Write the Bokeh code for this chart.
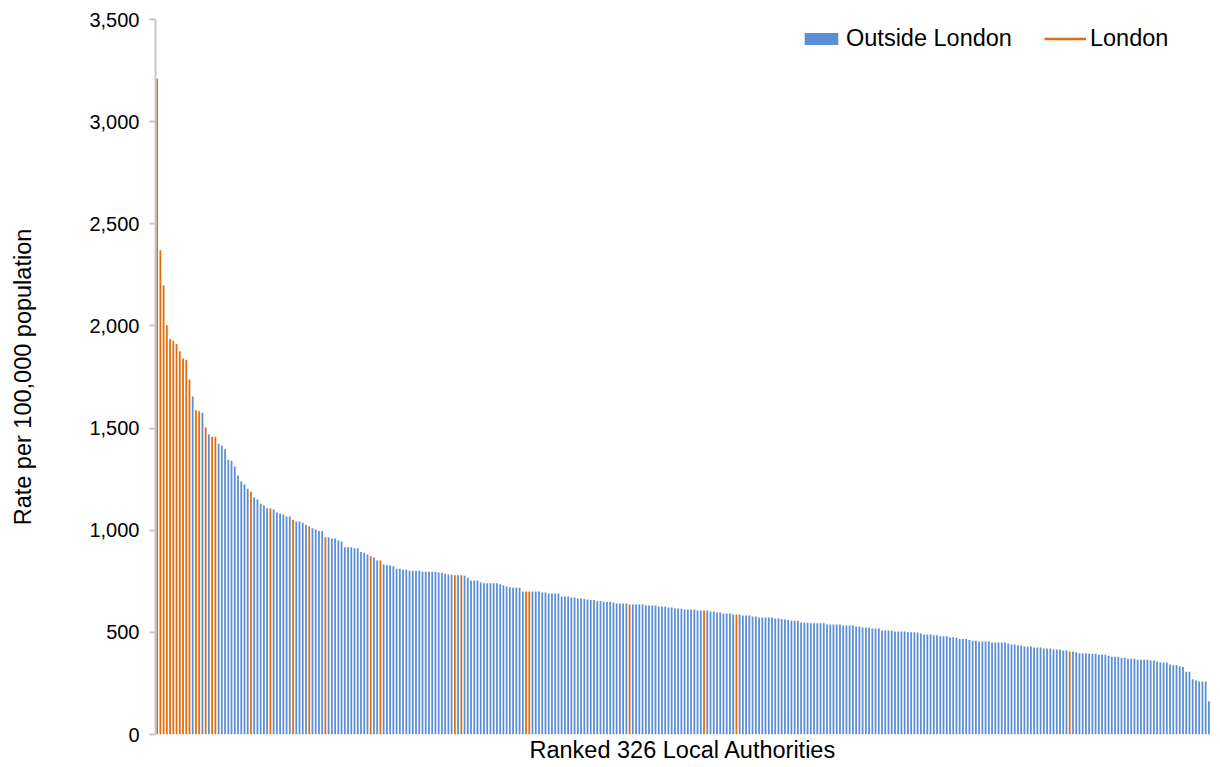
from bokeh.plotting import figure
from bokeh.models import (ColumnDataSource, Legend, LegendItem, NumeralTickFormatter,
                          FixedTicker, Range1d)
from bokeh.embed import file_html
from bokeh.resources import INLINE

# Rates per 100,000 population, ranked 1..326
rates = [
    3210, 2370, 2199, 2003, 1936, 1928, 1911, 1876, 1840, 1835,
    1738, 1655, 1587, 1582, 1575, 1503, 1469, 1458, 1458, 1423,
    1415, 1396, 1345, 1340, 1312, 1268, 1239, 1224, 1203, 1190,
    1161, 1151, 1130, 1121, 1108, 1107, 1102, 1087, 1082, 1077,
    1067, 1067, 1051, 1043, 1043, 1037, 1027, 1019, 1010, 1004,
    996, 996, 965, 965, 960, 960, 950, 945, 917, 917,
    917, 912, 912, 893, 890, 881, 872, 867, 852, 852,
    832, 829, 829, 824, 811, 811, 806, 806, 801, 801,
    801, 801, 797, 797, 797, 797, 797, 793, 792, 787,
    783, 782, 779, 779, 779, 777, 767, 754, 754, 754,
    744, 740, 740, 740, 740, 740, 735, 730, 725, 721,
    718, 718, 718, 700, 700, 700, 700, 700, 700, 695,
    695, 690, 690, 690, 690, 676, 676, 676, 671, 671,
    666, 666, 663, 661, 658, 658, 653, 653, 650, 650,
    650, 646, 641, 641, 641, 641, 636, 636, 636, 636,
    636, 633, 632, 632, 632, 627, 627, 627, 622, 622,
    617, 617, 615, 612, 612, 612, 612, 607, 607, 607,
    607, 602, 602, 597, 597, 592, 592, 592, 588, 588,
    588, 583, 583, 583, 578, 578, 573, 573, 573, 573,
    573, 568, 568, 565, 563, 560, 557, 557, 557, 548,
    548, 547, 544, 544, 544, 544, 544, 539, 539, 539,
    539, 539, 534, 534, 534, 534, 529, 529, 524, 524,
    524, 519, 519, 519, 509, 509, 509, 509, 504, 504,
    504, 504, 501, 501, 501, 499, 495, 490, 490, 490,
    486, 486, 481, 481, 481, 476, 476, 473, 468, 468,
    468, 463, 459, 459, 455, 455, 455, 455, 450, 450,
    450, 450, 450, 446, 441, 441, 436, 436, 431, 431,
    431, 426, 426, 426, 421, 421, 421, 416, 416, 416,
    411, 411, 406, 406, 403, 398, 398, 398, 395, 395,
    395, 390, 390, 390, 385, 380, 380, 380, 376, 376,
    371, 371, 371, 366, 366, 366, 366, 362, 362, 357,
    353, 353, 353, 343, 339, 339, 334, 330, 307, 307,
    271, 264, 260, 260, 260, 163,
]

# Ranks of the London authorities
london_ranks = [1, 2, 3, 4, 5, 6, 7, 8, 9, 10, 11, 13, 14, 16, 18, 19, 30, 36, 43,
                48, 53, 67, 70, 93, 95, 115, 116, 147, 170, 180, 283]

y_ticks = [0, 500, 1000, 1500, 2000, 2500, 3000, 3500]
series_names = ["Outside London", "London"]
x_title = "Ranked 326 Local Authorities"
y_title = "Rate per 100,000 population"

BLUE = "#5A8ED6"
ORANGE = "#E46C0A"
FONT = "Liberation Sans"

ranks = list(range(1, len(rates) + 1))
lon_set = set(london_ranks)
src_out = ColumnDataSource(dict(
    x=[r for r in ranks if r not in lon_set],
    top=[v for r, v in zip(ranks, rates) if r not in lon_set]))
src_lon = ColumnDataSource(dict(
    x=[r for r in ranks if r in lon_set],
    top=[v for r, v in zip(ranks, rates) if r in lon_set]))

p = figure(width=1214, height=765, output_backend="svg", toolbar_location=None,
           x_range=Range1d(0.5, len(rates) + 0.5), y_range=Range1d(0, 3500),
           min_border_left=155, min_border_top=19, min_border_right=4,
           min_border_bottom=28)
p.outline_line_color = None
p.grid.visible = False
p.background_fill_color = "white"
p.border_fill_color = "white"

r_out = p.vbar(x="x", top="top", width=0.55, source=src_out,
               fill_color=BLUE, line_color=None)
r_lon = p.vbar(x="x", top="top", width=0.55, source=src_lon,
               fill_color=ORANGE, line_color=None)
# legend-only line glyph for the London series (no visible points)
r_leg = p.line(x=[float("nan")], y=[float("nan")], line_color=ORANGE, line_width=2.5)

# y axis
ya = p.yaxis[0]
ya.ticker = FixedTicker(ticks=y_ticks)
ya.formatter = NumeralTickFormatter(format="0,0")
ya.axis_line_color = "#C8C8C8"
ya.axis_line_width = 2
ya.major_tick_line_color = "#C8C8C8"
ya.major_tick_line_width = 2
ya.major_tick_out = 6
ya.major_tick_in = 0
ya.minor_tick_out = 0
ya.minor_tick_in = 0
ya.major_label_text_font = FONT
ya.major_label_text_font_size = "20px"
ya.major_label_text_color = "#000000"
ya.major_label_standoff = 10
ya.axis_label = y_title
ya.axis_label_text_font = FONT
ya.axis_label_text_font_size = "23.5px"
ya.axis_label_text_font_style = "normal"
ya.axis_label_text_color = "#000000"
ya.axis_label_standoff = 50

# x axis
xa = p.xaxis[0]
xa.ticker = FixedTicker(ticks=[])
xa.axis_line_color = None
xa.major_tick_out = 0
xa.major_tick_in = 0
xa.minor_tick_out = 0
xa.minor_tick_in = 0
xa.major_label_standoff = 0
xa.axis_label = x_title
xa.axis_label_text_font = FONT
xa.axis_label_text_font_size = "23.5px"
xa.axis_label_text_font_style = "normal"
xa.axis_label_text_color = "#000000"
xa.axis_label_standoff = 2

legend = Legend(items=[LegendItem(label=series_names[0], renderers=[r_out]),
                       LegendItem(label=series_names[1], renderers=[r_leg])],
                orientation="horizontal", location=(645, 682))
legend.label_text_font = FONT
legend.label_text_font_size = "23.5px"
legend.label_text_color = "#000000"
legend.glyph_width = 42
legend.glyph_height = 15
legend.label_standoff = 4
legend.spacing = 32
legend.padding = 0
legend.margin = 0
legend.border_line_color = None
legend.background_fill_alpha = 0
p.add_layout(legend, "center")

open("out.html", "w").write(file_html(p, INLINE))
